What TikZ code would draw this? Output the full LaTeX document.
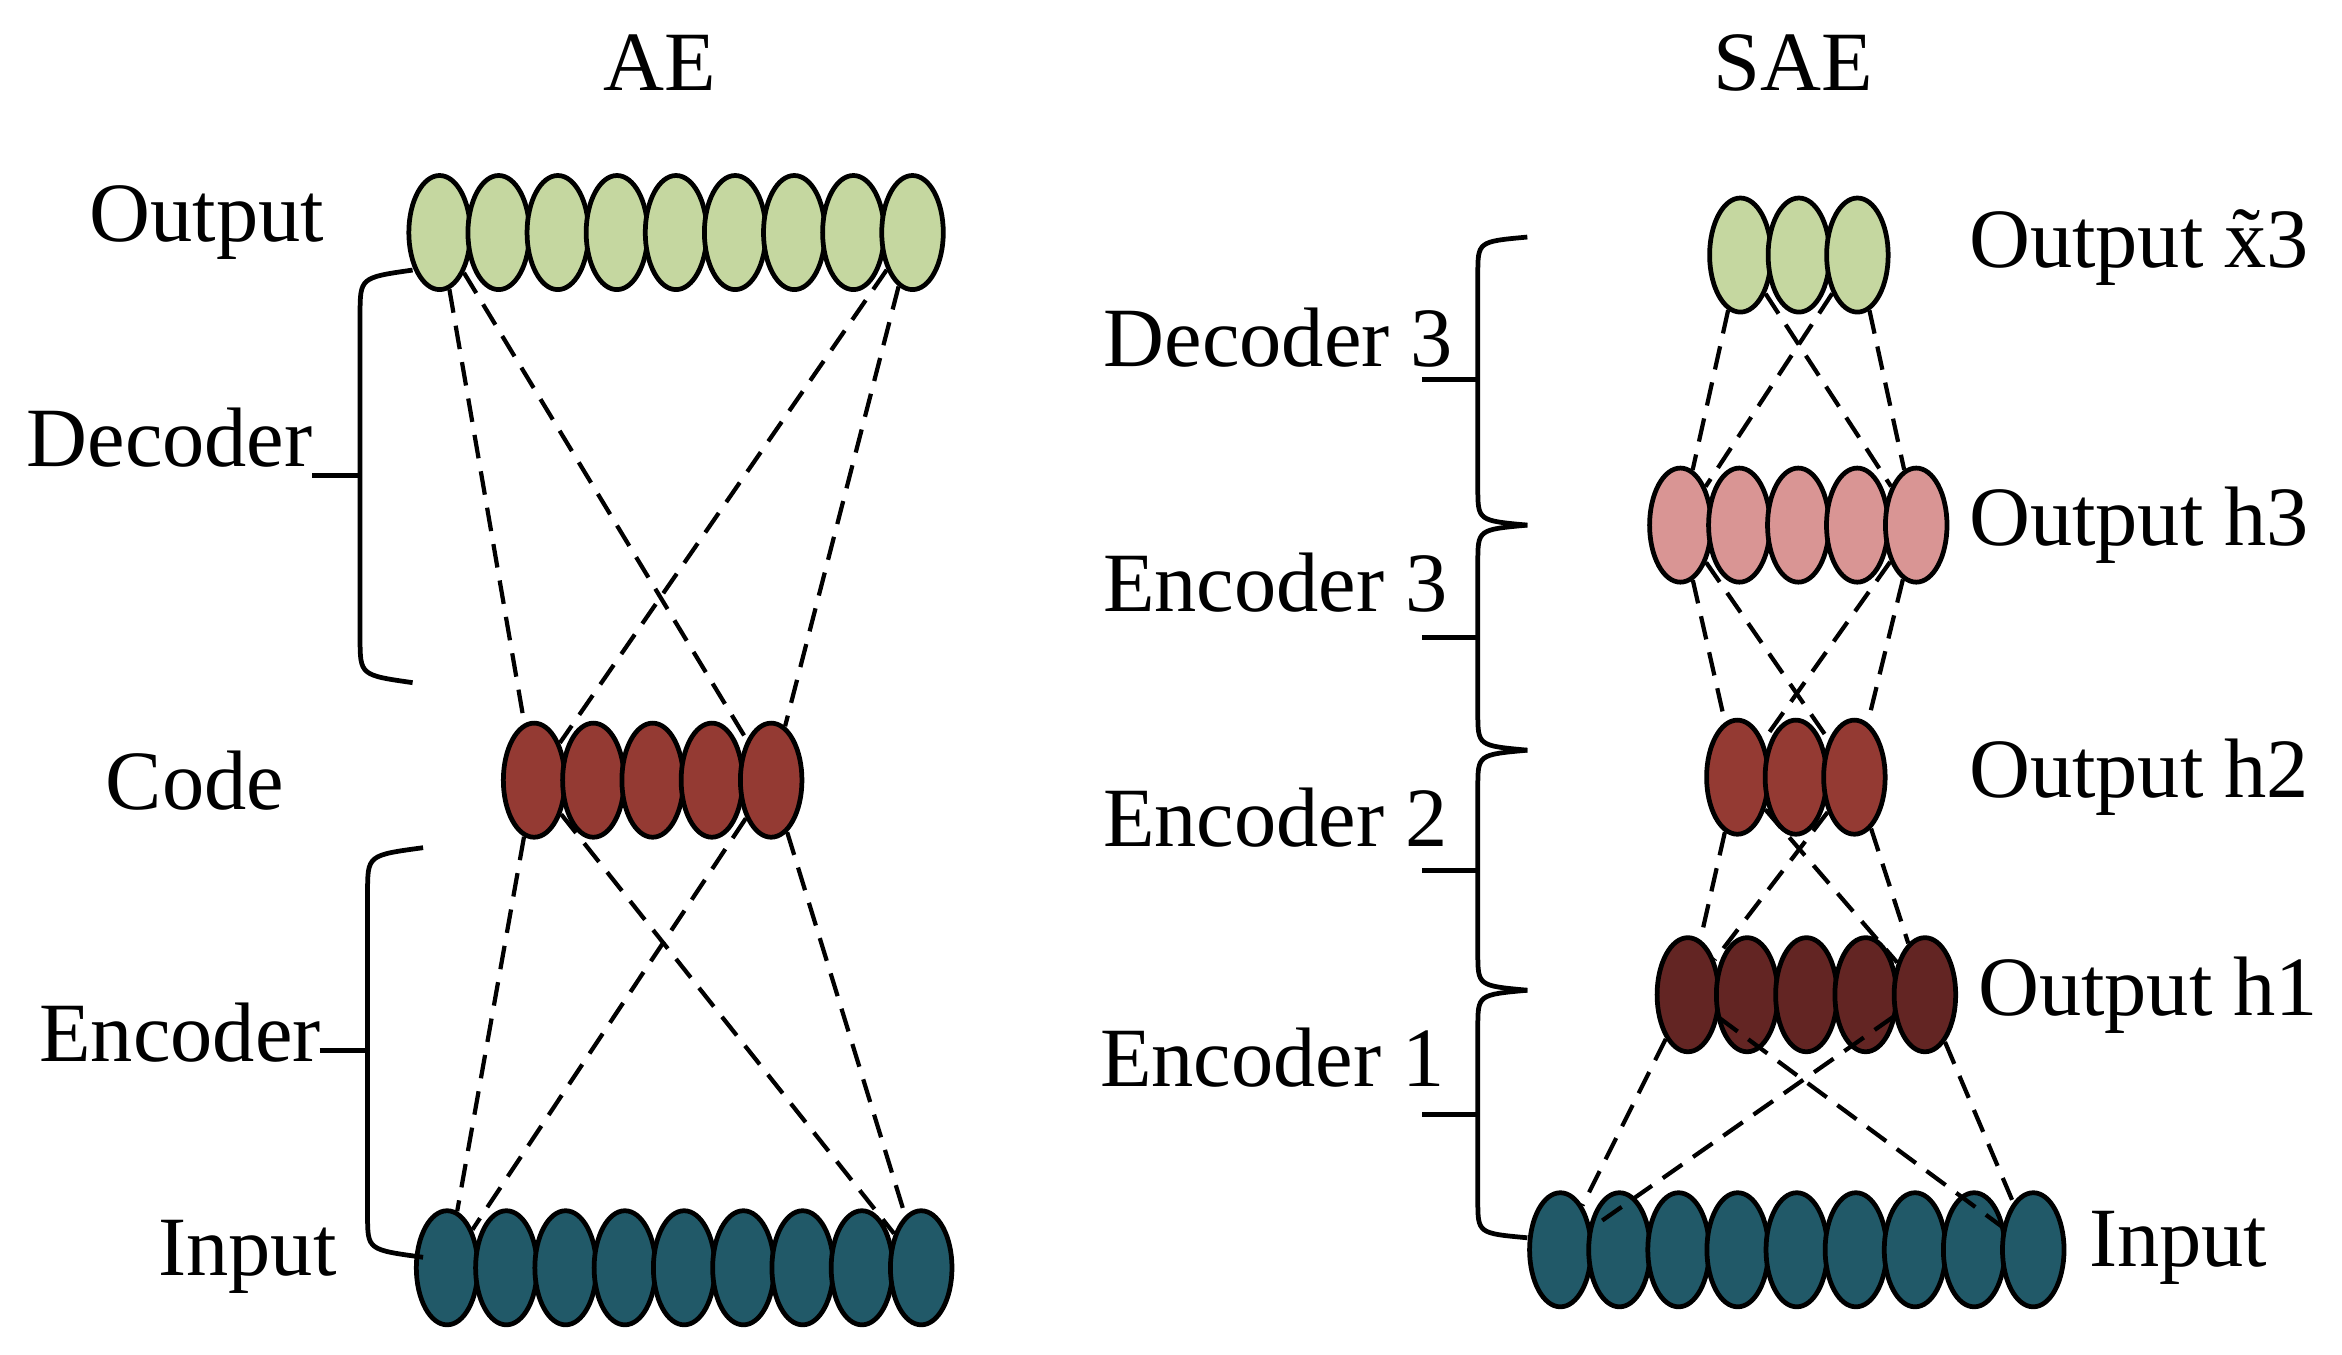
\documentclass[tikz,border=0pt]{standalone}
\usepackage{fontspec}
\setmainfont{Liberation Serif}
\usetikzlibrary{shapes.geometric}
\definecolor{cg}{HTML}{C5D7A0}
\definecolor{cp}{HTML}{D99594}
\definecolor{cr}{HTML}{943A33}
\definecolor{cd}{HTML}{632523}
\definecolor{ct}{HTML}{215968}
\begin{document}
\begin{tikzpicture}[x=0.01cm,y=-0.01cm,
  neu/.style={draw,ellipse,line width=0.9pt,minimum width=0.41cm,minimum height=0.76cm,inner sep=0},
  con/.style={dash pattern=on 4.5pt off 2.5pt,line width=0.8pt},
  br/.style={line width=0.9pt},
  lab/.style={font=\fontsize{16}{18}\selectfont}]
\useasboundingbox (0,0) rectangle (1561,903);
% AE
\node[lab] (tae) at (440,42) {AE};
\foreach \i in {1,...,9} \node[neu,fill=cg] (ao\i) at ({293+39.4*(\i-1)},155) {};
\foreach \i in {1,...,5} \node[neu,fill=cr] (ac\i) at ({356+39.5*(\i-1)},520) {};
\foreach \i in {1,...,9} \node[neu,fill=ct] (ai\i) at ({298+39.5*(\i-1)},845) {};
\draw[con] (ao1) -- (ac1); \draw[con] (ao1) -- (ac5);
\draw[con] (ao9) -- (ac1); \draw[con] (ao9) -- (ac5);
\draw[con] (ac1) -- (ai1); \draw[con] (ac1) -- (ai9);
\draw[con] (ac5) -- (ai1); \draw[con] (ac5) -- (ai9);
\node[lab] (l1) at (138,148) {Output};
\node[lab] (l2) at (113,292) {Decoder};
\node[lab] (l3) at (130,520) {Code};
\node[lab] (l4) at (120,688) {Encoder};
\node[lab] (l5) at (165,838) {Input};
\draw[br] (275,180) .. controls (240,185) .. (240,210) -- (240,425) .. controls (240,450) .. (275,455);
\draw[br] (208,317) -- (240,317);
\draw[br] (282,565) .. controls (245,570) .. (245,595) -- (245,810) .. controls (245,833) .. (282,838);
\draw[br] (213,700) -- (245,700);
% SAE
\node[lab] (tsae) at (1195,42) {SAE};
\foreach \i in {1,...,3} \node[neu,fill=cg] (sx\i) at ({1160+39*(\i-1)},170) {};
\foreach \i in {1,...,5} \node[neu,fill=cp] (s3\i) at ({1120+39.3*(\i-1)},350) {};
\foreach \i in {1,...,3} \node[neu,fill=cr] (s2\i) at ({1158+39*(\i-1)},518) {};
\foreach \i in {1,...,5} \node[neu,fill=cd] (s1\i) at ({1125+39.5*(\i-1)},663) {};
\foreach \i in {1,...,9} \node[neu,fill=ct] (si\i) at ({1040+39.4*(\i-1)},833) {};
\foreach \a/\b/\m/\n in {sx1/sx3/s31/s35, s31/s35/s21/s23, s21/s23/s11/s15, s11/s15/si1/si9}{
  \draw[con] (\a) -- (\m); \draw[con] (\a) -- (\n);
  \draw[con] (\b) -- (\m); \draw[con] (\b) -- (\n);}
\node[lab,anchor=west] (r1) at (1300,165) {Output \~{x}3};
\node[lab,anchor=west] (r2) at (1300,350) {Output h3};
\node[lab,anchor=west] (r3) at (1300,518) {Output h2};
\node[lab,anchor=west] (r4) at (1306,663) {Output h1};
\node[lab,anchor=west] (r5) at (1380,832) {Input};
\node[lab] (d3) at (852,225) {Decoder 3};
\node[lab] (e3) at (850,388) {Encoder 3};
\node[lab] (e2) at (850,545) {Encoder 2};
\node[lab] (e1) at (848,705) {Encoder 1};
\foreach \ya/\yb/\ym in {158/350/253, 350/500/425, 500/660/580, 660/825/743}{
  \draw[br] (1018,\ya) .. controls (985,\ya+3) .. (985,\ya+25) -- (985,\yb-25) .. controls (985,\yb-3) .. (1018,\yb);
  \draw[br] (948,\ym) -- (985,\ym);}
\end{tikzpicture}
\end{document}
